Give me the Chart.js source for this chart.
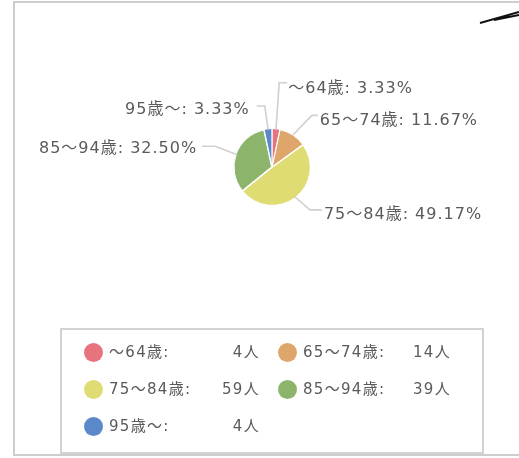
<!DOCTYPE html>
<html>
<head>
<meta charset="utf-8">
<script src="https://cdn.jsdelivr.net/npm/chart.js@4"></script>
<style>
  html, body { margin: 0; padding: 0; background: #fff; }
  body { width: 519px; height: 458px; position: relative; overflow: hidden;
         font-family: "DejaVu Sans", "Noto Sans CJK JP", sans-serif; }
  #frame { position: absolute; left: 13px; top: 1px; width: 540px; height: 455px;
           border: 2px solid #cdcdcd; box-sizing: border-box; }
  #grafico { position: absolute; left: 0; top: 0; }
  #legenda { position: absolute; left: 60px; top: 328px; width: 424px; height: 126px;
             border: 2px solid #d2d2d2; box-sizing: border-box; }
  .item { position: absolute; height: 20px; font-size: 15px; letter-spacing: 1.3px; color: #5a5a5a; }
  .item .dot { position: absolute; left: 0; top: 1px; width: 19px; height: 19px; border-radius: 50%; }
  .item .nome { position: absolute; left: 25px; top: 0; line-height: 20px; white-space: nowrap; }
  .item .qtd { position: absolute; right: -1px; top: 0; line-height: 20px; white-space: nowrap; }
</style>
</head>
<body>
<div id="frame"></div>
<canvas id="grafico" width="519" height="458"></canvas>
<div id="legenda"></div>
<script>
const categorias = ['～64歳', '65～74歳', '75～84歳', '85～94歳', '95歳～'];
const pessoas = [4, 14, 59, 39, 4];
const cores = ['#e6737d', '#dfa66b', '#dfdc74', '#8db46b', '#5b88c9'];

const total = pessoas.reduce((a, b) => a + b, 0);

// linhas dos rotulos: comprimento, angulo (graus a partir do topo), lado, trecho horizontal
const layoutRotulos = [
    { len: 47, ang: 4, side: 1, len2: 8, gap: 1, dy: 6 },
    { len: 28, ang: 44, side: 1, len2: 6, gap: 2, dy: 5 },
    { len: 20, ang: 131, side: 1, len2: 12, gap: 2, dy: 5 },
    { len: 23, ang: 291, side: -1, len2: 13, gap: 5, dy: 3 },
    { len: 24, ang: 352, side: -1, len2: 8, gap: 7, dy: 4 }
];

const rotulosPizza = {
    id: 'rotulosPizza',
    afterDatasetsDraw(chart) {
        const ctx = chart.ctx;
        const meta = chart.getDatasetMeta(0);
        ctx.save();
        meta.data.forEach((arc, i) => {
            const mid = (arc.startAngle + arc.endAngle) / 2;
            const r = arc.outerRadius;
            const x0 = arc.x + Math.cos(mid) * r;
            const y0 = arc.y + Math.sin(mid) * r;
            const lay = layoutRotulos[i];
            const a = (lay.ang - 90) * Math.PI / 180;
            const x1 = x0 + Math.cos(a) * lay.len;
            const y1 = y0 + Math.sin(a) * lay.len;
            const x2 = x1 + lay.side * lay.len2;
            ctx.strokeStyle = '#d0d0d0';
            ctx.lineWidth = 1.6;
            ctx.beginPath();
            ctx.moveTo(x0, y0);
            ctx.lineTo(x1, y1);
            ctx.lineTo(x2, y1);
            ctx.stroke();
            const pct = (pessoas[i] / total * 100).toFixed(2) + '%';
            ctx.fillStyle = '#5a5a5a';
            ctx.font = '16px "DejaVu Sans", "Noto Sans CJK JP", sans-serif';
            ctx.letterSpacing = '1px';
            ctx.textBaseline = 'middle';
            ctx.textAlign = lay.side > 0 ? 'left' : 'right';
            ctx.fillText(categorias[i] + ': ' + pct, x2 + lay.side * lay.gap, y1 + lay.dy);
        });
        // traco preto no canto
        ctx.strokeStyle = '#111';
        ctx.lineWidth = 2;
        ctx.beginPath();
        ctx.moveTo(480, 23);
        ctx.lineTo(519, 12);
        ctx.moveTo(494, 20);
        ctx.lineTo(519, 15);
        ctx.stroke();
        ctx.restore();
    }
};

const grafico = document.getElementById('grafico');
const graficoPizza = new Chart(grafico, {
    type: 'pie',
    data: {
        labels: categorias,
        datasets: [{
            data: pessoas,
            backgroundColor: cores,
            borderColor: '#fff',
            borderWidth: 1,
            offset: 2
        }]
    },
    options: {
        responsive: false,
        animation: false,
        layout: { padding: { left: 233, right: 208, top: 128, bottom: 252 } },
        plugins: {
            legend: { display: false },
            tooltip: { enabled: false }
        }
    },
    plugins: [rotulosPizza]
});

const legenda = document.getElementById('legenda');
categorias.forEach((cat, i) => {
    const col = i % 2;
    const row = Math.floor(i / 2);
    const item = document.createElement('div');
    item.className = 'item';
    item.style.left = (col === 0 ? 22 : 216) + 'px';
    item.style.top = (12 + row * 37) + 'px';
    item.style.width = (col === 0 ? 175 : 172) + 'px';
    item.innerHTML = '<span class="dot" style="background:' + cores[i] + '"></span>' +
        '<span class="nome">' + cat + ':</span>' +
        '<span class="qtd">' + pessoas[i] + '人</span>';
    legenda.appendChild(item);
});
</script>
</body>
</html>
